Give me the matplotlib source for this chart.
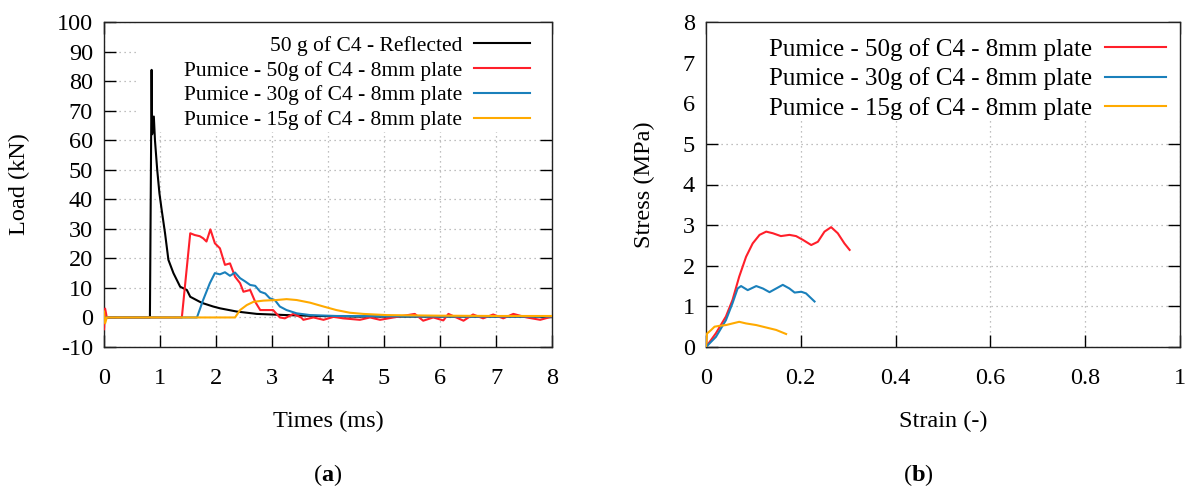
import matplotlib.pyplot as plt
from matplotlib.patches import Rectangle

plt.rcParams['font.family'] = ['Liberation Serif', 'DejaVu Serif']
plt.rcParams['mathtext.fontset'] = 'custom'
plt.rcParams['mathtext.rm'] = 'Liberation Serif'
plt.rcParams['mathtext.bf'] = 'Liberation Serif:bold'
plt.rcParams['axes.unicode_minus'] = False

# ---- (a) load vs time ----
t_refl = [0, 0.5, 0.81, 0.82, 0.85, 0.86, 0.89, 0.91, 0.95, 0.99, 1.03, 1.09, 1.15, 1.24, 1.36,
          1.48, 1.54, 1.71, 1.77, 1.95, 2.07, 2.37, 2.73, 3.26, 3.8, 4.5, 5.5, 6.5, 7.5, 8.0]
v_refl = [0, 0, 0, 0, 83.8, 62, 68, 60, 50, 42, 36.4, 28.5, 19.5, 15, 10.4,
          9.3, 7, 5.3, 4.8, 3.7, 3.1, 2, 1.2, 0.8, 0.5, 0.3, 0.3, 0.3, 0.3, 0.3]

t_50 = [0, 0.02, 0.05, 1.0, 1.39, 1.54, 1.62, 1.71, 1.77, 1.83, 1.90, 1.98, 2.07, 2.16, 2.25,
        2.34, 2.43, 2.49, 2.61, 2.70, 2.79, 2.90, 3.02, 3.14, 3.23, 3.38, 3.52, 3.56, 3.74, 3.92,
        4.10, 4.27, 4.57, 4.75, 4.93, 5.17, 5.55, 5.70, 5.88, 6.06, 6.15, 6.42, 6.59, 6.77, 6.95,
        7.13, 7.31, 7.55, 7.79, 8.0]
v_50 = [-4, 3, 0, 0, 0, 28.5, 27.9, 27.5, 26.8, 25.7, 29.8, 25.1, 23.4, 17.8, 18.3,
        13.8, 11.6, 8.7, 9.3, 5.3, 2.5, 2.5, 2.5, 0, -0.3, 1.2, 0, -0.8, 0, -0.8,
        0.2, -0.3, -0.8, 0, -0.8, 0, 1.2, -1.1, 0, -1, 1.2, -1.1, 1, -0.3, 1,
        -0.3, 1.2, 0, -0.8, 0.3]

t_30 = [0, 1.66, 1.77, 1.89, 1.98, 2.07, 2.16, 2.25, 2.34, 2.43, 2.52, 2.61, 2.70, 2.79, 2.88,
        2.96, 3.05, 3.14, 3.26, 3.44, 3.68, 4.15, 5.0, 6.0, 7.0, 8.0]
v_30 = [0, 0, 5.9, 11.6, 15, 14.6, 15.3, 14.1, 15.2, 13.3, 12.2, 11, 10.7, 8.7, 8.1,
        6.5, 5.9, 3.7, 2.5, 1.4, 0.8, 0.5, 0.4, 0.3, 0.3, 0.3]

t_15 = [0, 0.02, 0.05, 2.34, 2.43, 2.55, 2.67, 2.85, 3.08, 3.26, 3.44, 3.68, 3.92, 4.15, 4.39,
        4.63, 5.05, 6.0, 7.0, 8.0]
v_15 = [2, -2, 0, 0, 2.5, 4.2, 5.3, 5.7, 5.9, 6.2, 5.9, 5.0, 3.7, 2.5, 1.6,
        1.2, 0.8, 0.6, 0.5, 0.5]

# ---- (b) stress vs strain ----
e_50 = [0, 0.021, 0.042, 0.056, 0.070, 0.0845, 0.0985, 0.113, 0.127, 0.141, 0.158, 0.176,
        0.190, 0.204, 0.222, 0.236, 0.250, 0.264, 0.278, 0.292, 0.303]
s_50 = [0, 0.34, 0.75, 1.16, 1.73, 2.22, 2.55, 2.76, 2.84, 2.80, 2.73, 2.76,
        2.73, 2.64, 2.51, 2.59, 2.84, 2.95, 2.80, 2.55, 2.39]

e_30 = [0, 0.021, 0.042, 0.056, 0.0667, 0.074, 0.088, 0.106, 0.120, 0.134, 0.148, 0.162,
        0.176, 0.187, 0.201, 0.211, 0.229]
s_30 = [0, 0.25, 0.66, 1.08, 1.44, 1.50, 1.40, 1.50, 1.44, 1.35, 1.44, 1.53,
        1.44, 1.34, 1.36, 1.32, 1.12]

e_15 = [0, 0.002, 0.011, 0.018, 0.028, 0.042, 0.056, 0.070, 0.0845, 0.106, 0.127, 0.148, 0.169]
s_15 = [0, 0.33, 0.42, 0.50, 0.52, 0.54, 0.58, 0.62, 0.58, 0.54, 0.48, 0.42, 0.32]

RED = '#ff1f2a'
BLUE = '#1a80bb'
ORANGE = '#ffaa00'

W, H = 1196, 493
fig = plt.figure(figsize=(W / 100, H / 100), dpi=100)
axA = fig.add_axes([104 / W, 146 / H, 448 / W, 325 / H])
axB = fig.add_axes([706 / W, 146 / H, 474 / W, 325 / H])

TICK_FS = 17.5


def style(ax):
    ax.set_axisbelow(True)
    ax.grid(True, color='#aaaaaa', linestyle=(0, (1, 3)), linewidth=0.9)
    ax.tick_params(direction='in', length=8.5, width=1.0, top=True, right=True,
                   labelsize=TICK_FS, colors='black')
    ax.tick_params(axis='y', pad=8)
    ax.tick_params(axis='x', pad=15)
    for s in ax.spines.values():
        s.set_linewidth(1.0)
        s.set_color('#222222')


style(axA)
style(axB)

lw = 1.5
axA.plot(t_refl, v_refl, color='black', lw=lw, label='50 g of C4 - Reflected', zorder=3)
axA.plot(t_50, v_50, color=RED, lw=lw, label='Pumice - 50g of C4 - 8mm plate', zorder=3)
axA.plot(t_30, v_30, color=BLUE, lw=lw, label='Pumice - 30g of C4 - 8mm plate', zorder=3)
axA.plot(t_15, v_15, color=ORANGE, lw=lw, label='Pumice - 15g of C4 - 8mm plate', zorder=3)
axA.set_xlim(0, 8)
axA.set_ylim(-10, 100)
axA.set_xticks(range(0, 9))
axA.set_yticks(range(-10, 101, 10))
axA.set_xlabel('Times (ms)', fontsize=TICK_FS)
axA.set_ylabel('Load (kN)', fontsize=TICK_FS)
axA.xaxis.set_label_coords(0.5, -0.195)
axA.yaxis.set_label_coords(-0.165, 0.5)
axA.add_patch(Rectangle((0.076, 0.662), 0.924, 0.338, transform=axA.transAxes,
                        facecolor='white', edgecolor='none', zorder=1))
axA.legend(loc='upper right', bbox_to_anchor=(0.951, 0.958), frameon=False,
           markerfirst=False, fontsize=15.5, handlelength=2.6, handletextpad=0.55,
           labelspacing=0.22, borderpad=0, borderaxespad=0)

axB.plot(e_50, s_50, color=RED, lw=lw, label='Pumice - 50g of C4 - 8mm plate', zorder=3)
axB.plot(e_30, s_30, color=BLUE, lw=lw, label='Pumice - 30g of C4 - 8mm plate', zorder=3)
axB.plot(e_15, s_15, color=ORANGE, lw=lw, label='Pumice - 15g of C4 - 8mm plate', zorder=3)
axB.set_xlim(0, 1)
axB.set_ylim(0, 8)
axB.set_xticks([0, 0.2, 0.4, 0.6, 0.8, 1])
axB.set_xticklabels(['0', '0.2', '0.4', '0.6', '0.8', '1'])
axB.set_yticks(range(0, 9))
axB.set_xlabel('Strain (-)', fontsize=TICK_FS)
axB.set_ylabel('Stress (MPa)', fontsize=TICK_FS)
axB.xaxis.set_label_coords(0.5, -0.195)
axB.yaxis.set_label_coords(-0.108, 0.5)
axB.add_patch(Rectangle((0.0, 0.698), 1.0, 0.302, transform=axB.transAxes,
                        facecolor='white', edgecolor='none', zorder=1))
axB.legend(loc='upper right', bbox_to_anchor=(0.970, 0.952), frameon=False,
           markerfirst=False, fontsize=18, handlelength=2.45, handletextpad=0.5,
           labelspacing=0.27, borderpad=0, borderaxespad=0)

fig.text(328 / W, 1 - 475 / H, r'($\mathbf{a}$)', ha='center', va='center', fontsize=TICK_FS)
fig.text(918 / W, 1 - 475 / H, r'($\mathbf{b}$)', ha='center', va='center', fontsize=TICK_FS)

fig.savefig('out.png', dpi=100)
